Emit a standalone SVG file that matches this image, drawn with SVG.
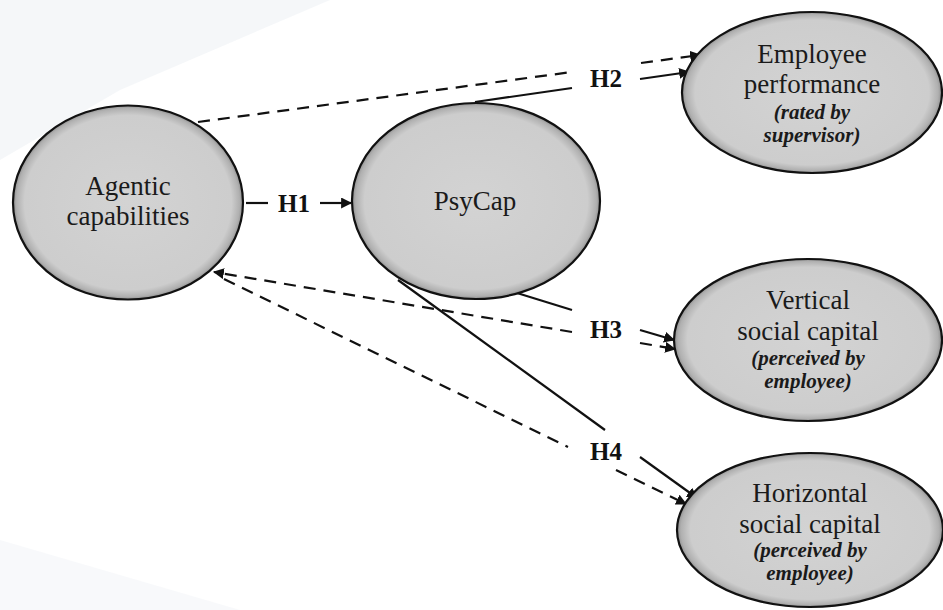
<svg xmlns="http://www.w3.org/2000/svg" width="943" height="610" viewBox="0 0 943 610">
<style>
.node{fill:url(#g);stroke:#111;stroke-width:2.2}
.c{fill:none;stroke:#111;stroke-width:2.2}
.d{stroke-dasharray:12,8}
</style>
<defs>
<radialGradient id="g" cx="50%" cy="50%" r="50%">
<stop offset="0" stop-color="#d3d3d3"/>
<stop offset="0.9" stop-color="#cdcdcd"/>
<stop offset="0.97" stop-color="#b0b0b0"/>
<stop offset="1" stop-color="#8f8f8f"/>
</radialGradient>
<marker id="a" viewBox="0 0 10 10" refX="9" refY="5" markerWidth="5" markerHeight="5" orient="auto" markerUnits="strokeWidth">
<path d="M0,0 L10,5 L0,10 z" fill="#111"/>
</marker>
</defs>
<rect width="943" height="610" fill="#ffffff"/>
<polygon points="0,0 330,0 120,90 0,160" fill="#f1f3f7" opacity="0.7"/>
<polygon points="0,540 240,610 0,610" fill="#f4f5f8" opacity="0.6"/>

<g id="connectors">
<line class="c" x1="246" y1="203" x2="268" y2="203"/>
<line class="c" x1="320" y1="203" x2="351" y2="203" marker-end="url(#a)"/>
<line class="c d" x1="198" y1="122" x2="572" y2="72"/>
<line class="c d" x1="641" y1="63" x2="700" y2="55" marker-end="url(#a)"/>
<line class="c" x1="475" y1="102" x2="572" y2="88"/>
<line class="c" x1="640" y1="79" x2="689" y2="72" marker-end="url(#a)"/>
<line class="c d" x1="572" y1="332" x2="214" y2="272" marker-end="url(#a)"/>
<line class="c d" x1="640" y1="343" x2="675" y2="349" marker-end="url(#a)"/>
<line class="c" x1="517" y1="293" x2="572" y2="310"/>
<line class="c" x1="640" y1="330" x2="674" y2="340" marker-end="url(#a)"/>
<line class="c d" x1="224" y1="279" x2="568" y2="447"/>
<line class="c d" x1="616" y1="470" x2="686" y2="504" marker-end="url(#a)"/>
<line class="c" x1="398" y1="280" x2="605" y2="430"/>
<line class="c" x1="640" y1="457" x2="697" y2="498" marker-end="url(#a)"/>
<g font-family="Liberation Serif, serif" font-size="25" font-weight="bold" fill="#111" text-anchor="middle">
<text x="294" y="212">H1</text>
<text x="606" y="87">H2</text>
<text x="606" y="338">H3</text>
<text x="606" y="460">H4</text>
</g>
</g>

<g id="agentic">
<ellipse class="node" cx="128" cy="202.5" rx="115" ry="97"/>
<g font-family="Liberation Serif, serif" font-size="27" fill="#1a1a1a" text-anchor="middle">
<text x="128" y="195">Agentic</text>
<text x="128" y="225">capabilities</text>
</g>
</g>
<g id="psycap">
<ellipse class="node" cx="476" cy="201" rx="124" ry="98"/>
<text x="475" y="210" font-family="Liberation Serif, serif" font-size="27" fill="#1a1a1a" text-anchor="middle">PsyCap</text>
</g>
<g id="performance">
<ellipse class="node" cx="812" cy="92.5" rx="130" ry="80.5"/>
<g font-family="Liberation Serif, serif" fill="#1a1a1a" text-anchor="middle">
<text x="812" y="63" font-size="27">Employee</text>
<text x="812" y="93" font-size="27">performance</text>
<text x="812" y="119" font-size="21" font-weight="bold" font-style="italic">(rated by</text>
<text x="812" y="142" font-size="21" font-weight="bold" font-style="italic">supervisor)</text>
</g>
</g>
<g id="vertical">
<ellipse class="node" cx="808" cy="340" rx="134" ry="81"/>
<g font-family="Liberation Serif, serif" fill="#1a1a1a" text-anchor="middle">
<text x="808" y="309" font-size="27">Vertical</text>
<text x="808" y="340" font-size="27">social capital</text>
<text x="808" y="365" font-size="21" font-weight="bold" font-style="italic">(perceived by</text>
<text x="808" y="388" font-size="21" font-weight="bold" font-style="italic">employee)</text>
</g>
</g>
<g id="horizontal">
<ellipse class="node" cx="810" cy="530" rx="133" ry="77"/>
<g font-family="Liberation Serif, serif" fill="#1a1a1a" text-anchor="middle">
<text x="810" y="502" font-size="27">Horizontal</text>
<text x="810" y="533" font-size="27">social capital</text>
<text x="810" y="557" font-size="21" font-weight="bold" font-style="italic">(perceived by</text>
<text x="810" y="580" font-size="21" font-weight="bold" font-style="italic">employee)</text>
</g>
</g>
</svg>
